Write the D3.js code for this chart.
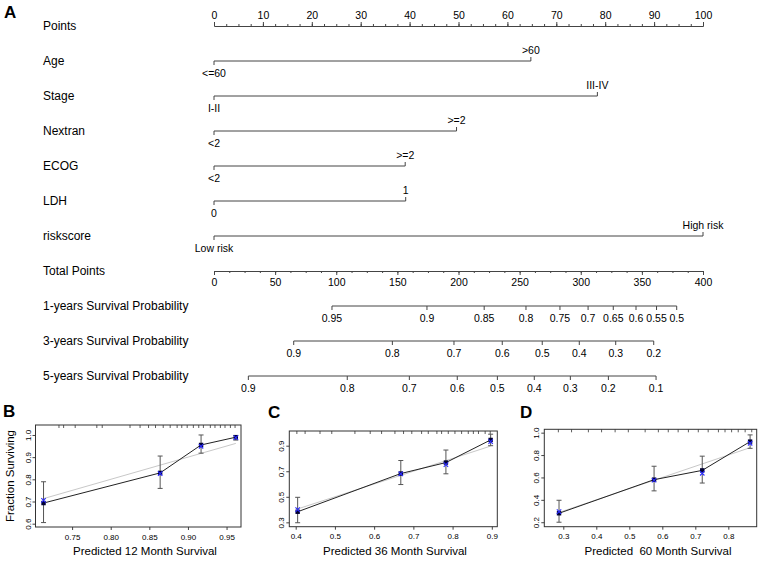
<!DOCTYPE html>
<html>
<head>
<meta charset="utf-8">
<script src="https://cdn.jsdelivr.net/npm/d3@7"></script>
<style>
body { margin: 0; background: #fff; }
svg { font-family: "Liberation Sans", Arial, sans-serif; }
</style>
</head>
<body>
<svg id="chart" width="764" height="561"></svg>
<script>
// ---- nomogram data (A) ----
const pointsTicks = [0, 10, 20, 30, 40, 50, 60, 70, 80, 90, 100]
const totalTicks = [0, 50, 100, 150, 200, 250, 300, 350, 400]

const varNames = ['Age', 'Stage', 'Nextran', 'ECOG', 'LDH', 'riskscore']
const varLevels = [['<=60', '>60'], ['I-II', 'III-IV'], ['<2', '>=2'], ['<2', '>=2'], ['0', '1'], ['Low risk', 'High risk']]
const varPoints = [[0, 64.8], [0, 78.4], [0, 49.6], [0, 39.1], [0, 39.2], [0, 100]]

const survNames = ['1-years Survival Probability', '3-years Survival Probability', '5-years Survival Probability']
const surv1Labels = ['0.95', '0.9', '0.85', '0.8', '0.75', '0.7', '0.65', '0.6', '0.55', '0.5']
const surv1Points = [96.5, 174.2, 221, 255.2, 283, 306, 326.6, 345.2, 362, 378.5]
const surv3Labels = ['0.9', '0.8', '0.7', '0.6', '0.5', '0.4', '0.3', '0.2']
const surv3Points = [65.2, 145.9, 196.3, 235.8, 268.5, 298.8, 328.6, 359.7]
const surv5Labels = ['0.9', '0.8', '0.7', '0.6', '0.5', '0.4', '0.3', '0.2', '0.1']
const surv5Points = [28.1, 109, 159.8, 199, 231.8, 262, 291.5, 322.6, 361.6]

// ---- calibration data (B, C, D) ----
const pred12 = [0.713, 0.864, 0.917, 0.962]
const obs12 = [0.693, 0.829, 0.955, 0.990]
const corr12 = [0.705, 0.826, 0.949, 0.988]
const lo12 = [0.605, 0.759, 0.918, 0.977]
const hi12 = [0.789, 0.905, 1.000, 0.998]
const rug12 = [0.733, 0.739, 0.754, 0.782, 0.789, 0.825, 0.838, 0.849, 0.858, 0.868, 0.877, 0.886, 0.892, 0.899, 0.907, 0.914, 0.920, 0.929, 0.935, 0.942, 0.948, 0.955, 0.961]

const pred36 = [0.405, 0.668, 0.783, 0.897]
const obs36 = [0.383, 0.682, 0.768, 0.945]
const corr36 = [0.400, 0.680, 0.752, 0.932]
const lo36 = [0.297, 0.596, 0.680, 0.900]
const hi36 = [0.496, 0.784, 0.866, 0.990]
const rug36 = [0.403, 0.424, 0.462, 0.492, 0.551, 0.590, 0.619, 0.653, 0.675, 0.696, 0.721, 0.738, 0.760, 0.772, 0.789, 0.806, 0.823, 0.840, 0.853, 0.866, 0.883, 0.896]

const pred60 = [0.287, 0.575, 0.721, 0.866]
const obs60 = [0.280, 0.580, 0.663, 0.920]
const corr60 = [0.295, 0.575, 0.637, 0.905]
const lo60 = [0.200, 0.480, 0.550, 0.860]
const hi60 = [0.396, 0.700, 0.790, 0.980]
const rug60 = [0.285, 0.325, 0.376, 0.416, 0.457, 0.497, 0.548, 0.588, 0.618, 0.648, 0.679, 0.709, 0.739, 0.770, 0.790, 0.810, 0.830, 0.851, 0.871]

const FONT = '"Liberation Sans", Arial, sans-serif'
const lineCol = '#444'
const svg = d3.select('#chart')

// ================= A: nomogram =================
const rows = ['Points', ...varNames, 'Total Points', ...survNames]
const y = d3.scalePoint().domain(rows).range([26, 376])
const xPts = d3.scaleLinear().domain([0, 100]).range([214, 703])
const xTot = d3.scaleLinear().domain([0, 400]).range([214, 703])

svg.append('text').text('A')
    .attr('x', 4).attr('y', 18)
    .attr('font-size', 17).attr('font-weight', 'bold')

svg.selectAll('text.rowlab')
    .data(rows)
    .enter()
    .append('text')
    .attr('class', 'rowlab')
    .attr('x', 43)
    .attr('y', d => y(d))
    .attr('dy', '0.35em')
    .attr('font-size', 12)
    .text(d => d)

function styleAxis(g, fs) {
    g.attr('font-family', FONT).attr('font-size', fs)
    g.selectAll('path, line').attr('stroke', lineCol)
    g.selectAll('text').attr('fill', '#000')
}

// points axis (labels above)
const minorPts = d3.range(0, 100.01, 2.5)
svg.append('g')
    .attr('transform', `translate(0,${y('Points')})`)
    .call(d3.axisTop(xPts).tickValues(minorPts).tickSize(2).tickSizeOuter(0).tickFormat(''))
    .call(g => styleAxis(g, 10.5))
svg.append('g')
    .attr('transform', `translate(0,${y('Points')})`)
    .call(d3.axisTop(xPts).tickValues(pointsTicks).tickSize(4).tickSizeOuter(0).tickPadding(3))
    .call(g => styleAxis(g, 10.5))

// total points axis (labels below)
const minorTot = d3.range(0, 400.01, 12.5)
svg.append('g')
    .attr('transform', `translate(0,${y('Total Points')})`)
    .call(d3.axisBottom(xTot).tickValues(minorTot).tickSize(2).tickSizeOuter(0).tickFormat(''))
    .call(g => styleAxis(g, 10.5))
svg.append('g')
    .attr('transform', `translate(0,${y('Total Points')})`)
    .call(d3.axisBottom(xTot).tickValues(totalTicks).tickSize(4).tickSizeOuter(0).tickPadding(4))
    .call(g => styleAxis(g, 10.5))

// variable rows
varNames.forEach((name, i) => {
    const yy = y(name)
    const pts = varPoints[i]
    const g = svg.append('g')
    g.append('line')
        .attr('x1', xPts(d3.min(pts))).attr('x2', xPts(d3.max(pts)))
        .attr('y1', yy).attr('y2', yy)
        .attr('stroke', lineCol)
    const lv = pts.map((p, j) => ({p, lab: varLevels[i][j], up: j % 2 === 1}))
    g.selectAll('line.tk')
        .data(lv)
        .enter()
        .append('line')
        .attr('x1', d => xPts(d.p)).attr('x2', d => xPts(d.p))
        .attr('y1', yy).attr('y2', d => d.up ? yy - 4 : yy + 4)
        .attr('stroke', lineCol)
    g.selectAll('text')
        .data(lv)
        .enter()
        .append('text')
        .attr('x', d => xPts(d.p))
        .attr('y', d => d.up ? yy - 7 : yy + 16)
        .attr('text-anchor', 'middle')
        .attr('font-size', 10.5)
        .text(d => d.lab)
})

// survival probability axes
const survLabels = [surv1Labels, surv3Labels, surv5Labels]
const survPoints = [surv1Points, surv3Points, surv5Points]
survNames.forEach((name, i) => {
    const yy = y(name)
    const ticks = survPoints[i].map((p, j) => ({p, lab: survLabels[i][j]}))
    const g = svg.append('g')
    g.append('line')
        .attr('x1', xTot(d3.min(survPoints[i]))).attr('x2', xTot(d3.max(survPoints[i])))
        .attr('y1', yy).attr('y2', yy)
        .attr('stroke', lineCol)
    g.selectAll('line.tk')
        .data(ticks)
        .enter()
        .append('line')
        .attr('x1', d => xTot(d.p)).attr('x2', d => xTot(d.p))
        .attr('y1', yy).attr('y2', yy + 4)
        .attr('stroke', lineCol)
    g.selectAll('text')
        .data(ticks)
        .enter()
        .append('text')
        .attr('x', d => xTot(d.p))
        .attr('y', yy + 16)
        .attr('text-anchor', 'middle')
        .attr('font-size', 10.5)
        .text(d => d.lab)
})

// ================= B, C, D: calibration =================
const panels = [
    {letter: 'B', lx: 3, ly: 417, left: 35.5, right: 241, top: 425, bottom: 527,
     xDom: [0.7026, 0.9687], yDom: [0.585, 1.045],
     xTicks: [0.75, 0.80, 0.85, 0.90, 0.95], xFmt: '.2f', yTicks: [0.6, 0.7, 0.8, 0.9, 1.0],
     title: 'Predicted 12 Month Survival', titleX: 145, ytitle: true,
     pred: pred12, obs: obs12, corr: corr12, lo: lo12, hi: hi12, rug: rug12},
    {letter: 'C', lx: 268, ly: 418, left: 289.3, right: 497.3, top: 431, bottom: 526.7,
     xDom: [0.3837, 0.914], yDom: [0.266, 1.015],
     xTicks: [0.4, 0.5, 0.6, 0.7, 0.8, 0.9], xFmt: '.1f', yTicks: [0.3, 0.5, 0.7, 0.9],
     title: 'Predicted 36 Month Survival', titleX: 395, ytitle: false,
     pred: pred36, obs: obs36, corr: corr36, lo: lo36, hi: hi36, rug: rug36},
    {letter: 'D', lx: 520, ly: 418, left: 544.3, right: 756.7, top: 429.3, bottom: 526.7,
     xDom: [0.2424, 0.886], yDom: [0.16, 1.03],
     xTicks: [0.3, 0.4, 0.5, 0.6, 0.7, 0.8], xFmt: '.1f', yTicks: [0.2, 0.4, 0.6, 0.8, 1.0],
     title: 'Predicted  60 Month Survival', titleX: 658, ytitle: false,
     pred: pred60, obs: obs60, corr: corr60, lo: lo60, hi: hi60, rug: rug60}
]

panels.forEach(p => {
    const x = d3.scaleLinear().domain(p.xDom).range([p.left, p.right])
    const yS = d3.scaleLinear().domain(p.yDom).range([p.bottom, p.top])
    const g = svg.append('g')

    g.append('text').text(p.letter)
        .attr('x', p.lx).attr('y', p.ly)
        .attr('font-size', 17).attr('font-weight', 'bold')

    // x axis
    g.append('g')
        .attr('transform', `translate(0,${p.bottom})`)
        .call(d3.axisBottom(x).tickValues(p.xTicks).tickFormat(d3.format(p.xFmt)).tickSize(3).tickSizeOuter(0).tickPadding(4))
        .call(a => { a.select('.domain').remove(); styleAxis(a, 8) })

    // y axis, labels rotated like base R
    g.append('g')
        .attr('transform', `translate(${p.left},0)`)
        .call(d3.axisLeft(yS).tickValues(p.yTicks).tickFormat(d3.format('.1f')).tickSize(3).tickSizeOuter(0))
        .call(a => {
            a.select('.domain').remove()
            styleAxis(a, 8)
            a.selectAll('text')
                .attr('transform', 'rotate(-90)')
                .attr('x', 0).attr('y', -5).attr('dy', 0)
                .attr('text-anchor', 'middle')
        })

    // box
    g.append('rect')
        .attr('x', p.left).attr('y', p.top)
        .attr('width', p.right - p.left).attr('height', p.bottom - p.top)
        .attr('fill', 'none').attr('stroke', '#333')

    // rug of predicted values on top
    g.selectAll('line.rug')
        .data(p.rug)
        .enter()
        .append('line')
        .attr('x1', d => x(d)).attr('x2', d => x(d))
        .attr('y1', p.top).attr('y2', p.top + 3)
        .attr('stroke', '#333').attr('stroke-width', 0.8)

    // ideal line
    const ext = d3.extent(p.pred)
    g.append('line')
        .attr('x1', x(ext[0])).attr('y1', yS(ext[0]))
        .attr('x2', x(ext[1])).attr('y2', yS(ext[1]))
        .attr('stroke', '#c8c8c8')

    const pts = p.pred.map((v, i) => ({x: v, o: p.obs[i], c: p.corr[i], lo: p.lo[i], hi: p.hi[i]}))

    // error bars
    const eb = g.selectAll('g.eb').data(pts).enter().append('g')
    eb.append('line')
        .attr('x1', d => x(d.x)).attr('x2', d => x(d.x))
        .attr('y1', d => yS(d.lo)).attr('y2', d => yS(d.hi))
        .attr('stroke', '#555')
    eb.append('line')
        .attr('x1', d => x(d.x) - 2.5).attr('x2', d => x(d.x) + 2.5)
        .attr('y1', d => yS(d.lo)).attr('y2', d => yS(d.lo))
        .attr('stroke', '#555')
    eb.append('line')
        .attr('x1', d => x(d.x) - 2.5).attr('x2', d => x(d.x) + 2.5)
        .attr('y1', d => yS(d.hi)).attr('y2', d => yS(d.hi))
        .attr('stroke', '#555')

    // observed line
    g.append('path')
        .datum(pts)
        .attr('d', d3.line().x(d => x(d.x)).y(d => yS(d.o)))
        .attr('fill', 'none').attr('stroke', '#222')

    // observed points
    g.selectAll('rect.obs')
        .data(pts)
        .enter()
        .append('rect')
        .attr('x', d => x(d.x) - 2.2).attr('y', d => yS(d.o) - 2.2)
        .attr('width', 4.4).attr('height', 4.4)
        .attr('fill', '#000033')

    // bias-corrected (blue x)
    g.selectAll('path.corr')
        .data(pts)
        .enter()
        .append('path')
        .attr('d', d => {
            const cx = x(d.x), cy = yS(d.c), r = 2.2
            return `M${cx - r},${cy - r}L${cx + r},${cy + r}M${cx - r},${cy + r}L${cx + r},${cy - r}`
        })
        .attr('stroke', '#2b2bff').attr('stroke-width', 1.1)

    // axis titles
    g.append('text')
        .attr('x', p.titleX).attr('y', 555)
        .attr('text-anchor', 'middle')
        .attr('font-size', 11.5)
        .style('white-space', 'pre')
        .text(p.title)
    if (p.ytitle) {
        g.append('text')
            .attr('transform', `translate(14,${(p.top + p.bottom) / 2}) rotate(-90)`)
            .attr('text-anchor', 'middle')
            .attr('font-size', 11.5)
            .text('Fraction Surviving')
    }
})
</script>
</body>
</html>
